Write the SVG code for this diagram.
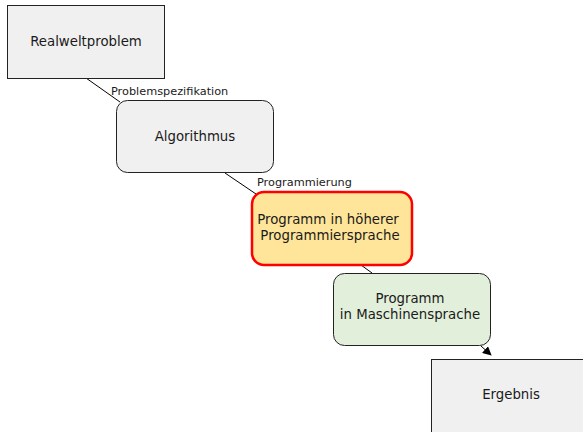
<svg xmlns="http://www.w3.org/2000/svg" width="583" height="432" viewBox="0 0 583 432">
<defs>
<marker id="arr" viewBox="0 0 10 10" refX="9" refY="5" markerWidth="9" markerHeight="9" orient="auto" markerUnits="userSpaceOnUse"><path d="M0,0 L10,5 L0,10 z" fill="#000"/></marker>
<style>
.n{font-family:"DejaVu Sans",sans-serif;font-size:13.3px;fill:#1a1a1a;text-anchor:middle}
.l{font-family:"DejaVu Sans",sans-serif;font-size:11.3px;fill:#1a1a1a}
.c{stroke:#000;stroke-width:1;fill:none}
.g{fill:#f0f0f0;stroke:#222;stroke-width:1}
</style>
</defs>
<rect width="583" height="432" fill="#fff"/>
<g id="connectors">
<line class="c" x1="86" y1="78" x2="120" y2="102"/>
<line class="c" x1="225" y1="173" x2="256" y2="194"/>
<line class="c" x1="361" y1="265" x2="372" y2="273"/>
<line class="c" x1="481" y1="346" x2="491" y2="355" marker-end="url(#arr)"/>
<text class="l" x="111" y="95">Problemspezifikation</text>
<text class="l" x="257" y="186">Programmierung</text>
</g>
<g id="realweltproblem">
<rect class="g" x="7.5" y="5.5" width="157" height="73"/>
<text class="n" x="86" y="46">Realweltproblem</text>
</g>
<g id="algorithmus">
<rect class="g" x="116.5" y="100.5" width="157" height="72" rx="11"/>
<text class="n" x="195" y="141">Algorithmus</text>
</g>
<g id="hoehere">
<rect x="252" y="192" width="160" height="73" rx="12" fill="#ffe599" stroke="#ff0000" stroke-width="2.5"/>
<text class="n" x="328" y="224">Programm in höherer</text>
<text class="n" x="330" y="240">Programmiersprache</text>
</g>
<g id="maschinensprache">
<rect x="333.5" y="273.5" width="157" height="72" rx="11" fill="#e2efda" stroke="#222" stroke-width="1"/>
<text class="n" x="410" y="303">Programm</text>
<text class="n" x="410" y="319">in Maschinensprache</text>
</g>
<g id="ergebnis">
<rect class="g" x="431.5" y="359.5" width="160" height="80"/>
<text class="n" x="511" y="399">Ergebnis</text>
</g>
</svg>
